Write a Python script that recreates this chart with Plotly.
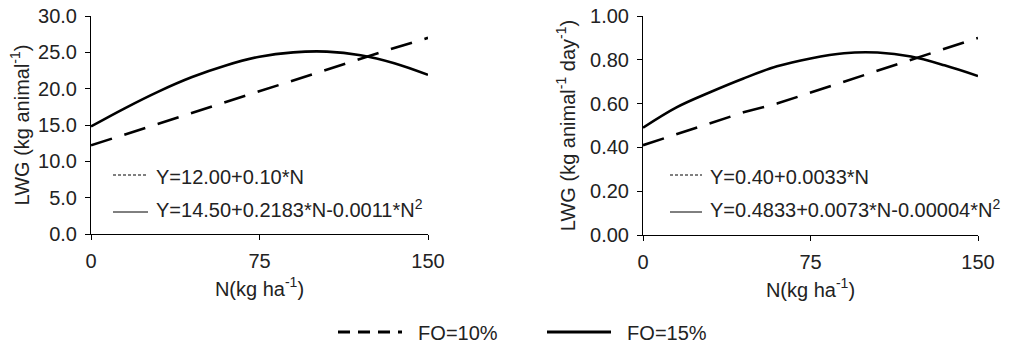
import plotly.graph_objects as go

# ---------------- data ----------------
N = [0, 15, 30, 45, 60, 75, 90, 105, 120, 135, 150]
lwg_total_fo10 = [12.2, 13.7, 15.2, 16.6, 18.1, 19.6, 21.1, 22.6, 24.1, 25.6, 27.0]
lwg_total_fo15 = [14.8, 17.3, 19.6, 21.6, 23.2, 24.4, 25.0, 25.1, 24.6, 23.5, 21.9]
lwg_daily_fo10 = [0.41, 0.46, 0.51, 0.56, 0.60, 0.65, 0.70, 0.75, 0.80, 0.85, 0.90]
lwg_daily_fo15 = [0.49, 0.583, 0.652, 0.715, 0.770, 0.806, 0.830, 0.833, 0.815, 0.775, 0.726]

series_names = ["FO=10%", "FO=15%"]
eq_total = ["Y=12.00+0.10*N", "Y=14.50+0.2183*N-0.0011*N<sup>2</sup>"]
eq_daily = ["Y=0.40+0.0033*N", "Y=0.4833+0.0073*N-0.00004*N<sup>2</sup>"]
x_ticks = [0, 75, 150]

W, H = 1019, 343
FONT = "Liberation Sans, Arial, sans-serif"
TXT = "#222222"


def px(x):
    return x / W


def py(y):
    return 1 - y / H


DASH_MAIN = "22px,13px"
fig = go.Figure()

# main lines
fig.add_trace(go.Scatter(x=N, y=lwg_total_fo10, mode="lines", xaxis="x", yaxis="y",
                         line=dict(color="black", width=2.6, dash=DASH_MAIN), showlegend=False))
fig.add_trace(go.Scatter(x=N, y=lwg_total_fo15, mode="lines", xaxis="x", yaxis="y",
                         line=dict(color="black", width=2.6, shape="spline"), showlegend=False))
fig.add_trace(go.Scatter(x=N, y=lwg_daily_fo10, mode="lines", xaxis="x2", yaxis="y2",
                         line=dict(color="black", width=2.6, dash=DASH_MAIN), showlegend=False))
fig.add_trace(go.Scatter(x=N, y=lwg_daily_fo15, mode="lines", xaxis="x2", yaxis="y2",
                         line=dict(color="black", width=2.6, shape="spline"), showlegend=False))

# legend-only entries for the bottom legend
fig.add_trace(go.Scatter(x=[None], y=[None], mode="lines", name="\u00a0\u00a0" + series_names[0],
                         line=dict(color="black", width=3, dash="12px,8px")))
fig.add_trace(go.Scatter(x=[None], y=[None], mode="lines", name="\u00a0\u00a0" + series_names[1],
                         line=dict(color="black", width=3)))

axis_common = dict(showline=True, linecolor="black", linewidth=1, ticks="outside",
                   ticklen=5, tickcolor="black", showgrid=False, zeroline=False,
                   automargin=False, ticklabeloverflow="allow",
                   tickfont=dict(family=FONT, size=20, color=TXT))

fig.update_layout(
    width=W, height=H,
    margin=dict(l=0, r=0, t=0, b=0, autoexpand=False),
    paper_bgcolor="white", plot_bgcolor="white",
    font=dict(family=FONT, size=20, color=TXT),
    xaxis=dict(domain=[px(91), px(428)], range=[0, 150], tickvals=x_ticks, anchor="y",
               ticklabelstandoff=4,
               title=dict(text="N(kg ha<sup>-1</sup>)", font=dict(size=20), standoff=10),
               **axis_common),
    yaxis=dict(domain=[py(234), py(16)], range=[0, 30], dtick=5, tickformat=".1f", anchor="x",
               ticklabelstandoff=4,
               title=dict(text="LWG (kg animal<sup>-1</sup>)", font=dict(size=20), standoff=3),
               **axis_common),
    xaxis2=dict(domain=[px(643), px(978)], range=[0, 150], tickvals=x_ticks, anchor="y2",
                ticklabelstandoff=4,
                title=dict(text="N(kg ha<sup>-1</sup>)", font=dict(size=20), standoff=10),
                **axis_common),
    yaxis2=dict(domain=[py(235), py(16)], range=[0, 1.0], dtick=0.2, tickformat=".2f", anchor="x2",
                ticklabelstandoff=4,
                title=dict(text="LWG (kg animal<sup>-1</sup> day<sup>-1</sup>)", font=dict(size=20), standoff=9),
                **axis_common),
    legend=dict(orientation="h", x=px(333), xanchor="left", y=py(332), yanchor="middle",
                font=dict(family=FONT, size=20, color=TXT), itemwidth=64,
                entrywidth=130, entrywidthmode="pixels",
                bgcolor="rgba(0,0,0,0)", tracegroupgap=0),
)

# inner equation legends
shapes = []
annotations = []
for (k0, k1, t0), eqs in [((113, 148, 154), eq_total), ((670, 702, 708), eq_daily)]:
    shapes.append(dict(type="line", xref="paper", yref="paper", x0=px(k0), x1=px(k1),
                       y0=py(175), y1=py(175), line=dict(color="black", width=1, dash="3px,2px")))
    shapes.append(dict(type="line", xref="paper", yref="paper", x0=px(k0), x1=px(k1),
                       y0=py(212), y1=py(212), line=dict(color="black", width=1)))
    annotations.append(dict(xref="paper", yref="paper", x=px(t0), y=py(177), text=eqs[0],
                            showarrow=False, xanchor="left", yanchor="middle",
                            font=dict(family=FONT, size=20, color=TXT)))
    annotations.append(dict(xref="paper", yref="paper", x=px(t0), y=py(208), text=eqs[1],
                            showarrow=False, xanchor="left", yanchor="middle",
                            font=dict(family=FONT, size=20, color=TXT)))

fig.update_layout(shapes=shapes, annotations=annotations)

# remove the default page margin so the figure fills the window exactly
fig.write_html("out.html", config={"displayModeBar": False},
               post_script="document.body.style.margin='0';")
